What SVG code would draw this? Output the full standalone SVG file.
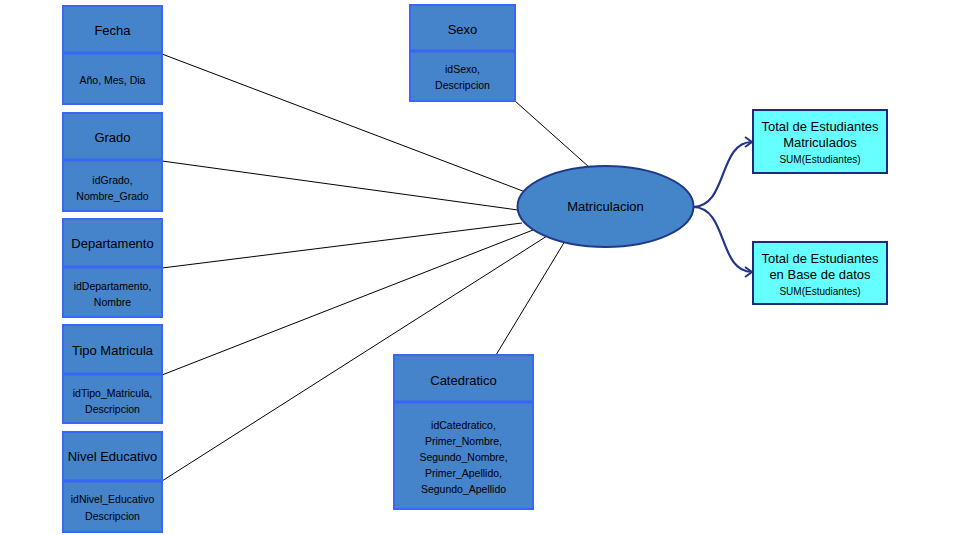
<svg xmlns="http://www.w3.org/2000/svg" width="977" height="535" viewBox="0 0 977 535">
  <defs>
    <style>
      .tbl { fill: #4583CA; stroke: #3A66F5; stroke-width: 2; }
      .div { stroke: #3A66F5; stroke-width: 3; }
      .title { font-family: "Liberation Sans", Arial, sans-serif; font-size: 13px; fill: #000; text-anchor: middle; }
      .attr { font-family: "Liberation Sans", Arial, sans-serif; font-size: 10.5px; fill: #000; text-anchor: middle; }
      .link { stroke: #000; stroke-width: 1; fill: none; }
      .flow { stroke: #22348A; stroke-width: 2.2; fill: none; marker-end: url(#chev); }
      .res { fill: #66FFFF; stroke: #1F2A78; stroke-width: 2; }
      .rt { font-family: "Liberation Sans", Arial, sans-serif; font-size: 13px; fill: #000; text-anchor: middle; }
      .rs { font-family: "Liberation Sans", Arial, sans-serif; font-size: 10px; fill: #000; text-anchor: middle; }
    </style>
    <marker id="chev" markerWidth="10" markerHeight="12" refX="8" refY="6" orient="auto" markerUnits="userSpaceOnUse">
      <path d="M1,1 L8,6 L1,11" fill="none" stroke="#22348A" stroke-width="2"/>
    </marker>
  </defs>
  <rect width="977" height="535" fill="#fff"/>

  <g id="connectors">
    <line class="link" x1="162" y1="54" x2="528" y2="193"/>
    <line class="link" x1="162" y1="161" x2="518" y2="210"/>
    <line class="link" x1="162" y1="268" x2="522" y2="223"/>
    <line class="link" x1="162" y1="375" x2="533" y2="230"/>
    <line class="link" x1="162" y1="481" x2="547" y2="236"/>
    <line class="link" x1="515" y1="101" x2="589" y2="167"/>
    <line class="link" x1="496" y1="355" x2="565" y2="241"/>
    <path class="flow" d="M693,207 C728,207 718,142 752,142"/>
    <path class="flow" d="M693,207 C728,207 718,272 752,272"/>
  </g>

  <g id="fecha">
    <rect class="tbl" x="63" y="6" width="99" height="98"/>
    <line class="div" x1="63" y1="53" x2="162" y2="53"/>
    <text class="title" x="112.5" y="35">Fecha</text>
    <text class="attr" x="112.5" y="84">Año, Mes, Dia</text>
  </g>

  <g id="grado">
    <rect class="tbl" x="63" y="113" width="99" height="98"/>
    <line class="div" x1="63" y1="160" x2="162" y2="160"/>
    <text class="title" x="112.5" y="142">Grado</text>
    <text class="attr" x="112.5" y="184">idGrado,</text>
    <text class="attr" x="112.5" y="200">Nombre_Grado</text>
  </g>

  <g id="departamento">
    <rect class="tbl" x="63" y="219" width="99" height="98"/>
    <line class="div" x1="63" y1="267" x2="162" y2="267"/>
    <text class="title" x="112.5" y="248">Departamento</text>
    <text class="attr" x="112.5" y="290">idDepartamento,</text>
    <text class="attr" x="112.5" y="306">Nombre</text>
  </g>

  <g id="tipo-matricula">
    <rect class="tbl" x="63" y="325" width="99" height="98"/>
    <line class="div" x1="63" y1="374" x2="162" y2="374"/>
    <text class="title" x="112.5" y="355">Tipo Matricula</text>
    <text class="attr" x="112.5" y="397">idTipo_Matricula,</text>
    <text class="attr" x="112.5" y="413">Descripcion</text>
  </g>

  <g id="nivel-educativo">
    <rect class="tbl" x="63" y="432" width="99" height="100"/>
    <line class="div" x1="63" y1="481" x2="162" y2="481"/>
    <text class="title" x="112.5" y="461">Nivel Educativo</text>
    <text class="attr" x="112.5" y="503">idNivel_Educativo</text>
    <text class="attr" x="112.5" y="520">Descripcion</text>
  </g>

  <g id="sexo">
    <rect class="tbl" x="410" y="5" width="105" height="96"/>
    <line class="div" x1="410" y1="51" x2="515" y2="51"/>
    <text class="title" x="462.5" y="34">Sexo</text>
    <text class="attr" x="462.5" y="73">idSexo,</text>
    <text class="attr" x="462.5" y="89">Descripcion</text>
  </g>

  <g id="catedratico">
    <rect class="tbl" x="394" y="355" width="139" height="154"/>
    <line class="div" x1="394" y1="402" x2="533" y2="402"/>
    <text class="title" x="463.5" y="385">Catedratico</text>
    <text class="attr" x="463.5" y="429">idCatedratico,</text>
    <text class="attr" x="463.5" y="445">Primer_Nombre,</text>
    <text class="attr" x="463.5" y="461">Segundo_Nombre,</text>
    <text class="attr" x="463.5" y="477">Primer_Apellido,</text>
    <text class="attr" x="463.5" y="493">Segundo_Apellido</text>
  </g>

  <g id="matriculacion">
    <ellipse cx="605.5" cy="206.5" rx="88" ry="40.5" fill="#4485CA" stroke="#1F3A8A" stroke-width="2"/>
    <text class="title" x="605.5" y="211">Matriculacion</text>
  </g>

  <g id="total-matriculados">
    <rect class="res" x="753" y="110" width="134" height="63"/>
    <text class="rt" x="820" y="131">Total de Estudiantes</text>
    <text class="rt" x="820" y="147">Matriculados</text>
    <text class="rs" x="820" y="163">SUM(Estudiantes)</text>
  </g>

  <g id="total-base-datos">
    <rect class="res" x="753" y="242" width="134" height="62"/>
    <text class="rt" x="820" y="263">Total de Estudiantes</text>
    <text class="rt" x="820" y="279">en Base de datos</text>
    <text class="rs" x="820" y="295">SUM(Estudiantes)</text>
  </g>
</svg>
